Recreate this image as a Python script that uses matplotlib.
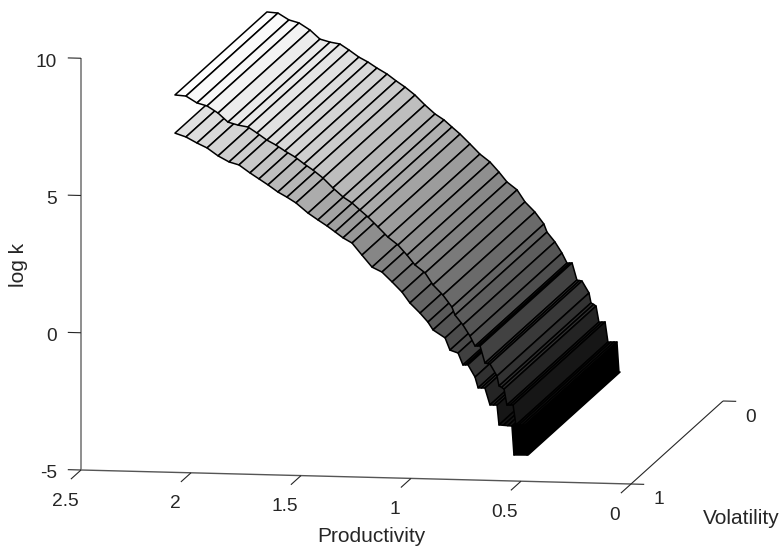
"""
log k over productivity and volatility: two grey faceted sheets, seen in a fixed oblique view.
z does not change along volatility, so each sheet is one row of z per productivity value.
"""

import matplotlib
matplotlib.use("Agg")
import matplotlib.pyplot as plt
from matplotlib.collections import PolyCollection

plt.rcParams["font.family"] = ["Liberation Sans", "DejaVu Sans"]

# upper sheet
p_upper = [2.073, 2.023, 1.973, 1.927, 1.877, 1.832, 1.786, 1.741, 1.700, 1.655, 1.614, 1.573,
           1.527, 1.486, 1.445, 1.400, 1.355, 1.309, 1.268, 1.232, 1.195, 1.150, 1.105, 1.059,
           1.018, 0.982, 0.936, 0.900, 0.855, 0.814, 0.800, 0.764, 0.732, 0.709, 0.697, 0.686,
           0.664, 0.652, 0.641, 0.609, 0.600, 0.588, 0.577, 0.564, 0.550, 0.536, 0.523, 0.510,
           0.495, 0.482, 0.473]
z_upper = [8.75, 8.72, 8.48, 8.38, 8.13, 7.81, 7.71, 7.65, 7.44, 7.19, 7.02, 6.81,
           6.60, 6.36, 6.14, 5.86, 5.51, 5.19, 4.98, 4.73, 4.48, 4.13, 3.77, 3.49,
           3.13, 2.78, 2.50, 2.07, 1.71, 1.28, 0.99, 0.64, 0.24, -0.12, -0.115, -0.11,
           -0.73, -0.745, -0.76, -1.19, -1.55, -1.60, -1.66, -2.24, -2.235, -2.23, -2.96, -2.955,
           -2.95, -2.95, -4.04]

# lower sheet
p_lower = [2.073, 2.023, 1.973, 1.927, 1.877, 1.827, 1.782, 1.732, 1.691, 1.650, 1.605, 1.564,
           1.523, 1.468, 1.423, 1.382, 1.345, 1.309, 1.268, 1.223, 1.177, 1.132, 1.086, 1.041,
           1.005, 0.959, 0.923, 0.900, 0.845, 0.823, 0.786, 0.764, 0.752, 0.741, 0.709, 0.695,
           0.680, 0.664, 0.641, 0.625, 0.609, 0.600, 0.580, 0.560, 0.541, 0.532, 0.468]
z_lower = [7.36, 7.23, 7.02, 6.85, 6.57, 6.36, 6.26, 5.98, 5.77, 5.56, 5.31, 5.13,
           4.93, 4.57, 4.33, 4.12, 3.91, 3.70, 3.52, 3.09, 2.66, 2.49, 2.14, 1.78,
           1.39, 1.03, 0.71, 0.43, 0.15, -0.29, -0.39, -0.82, -0.815, -0.81, -1.25, -1.64,
           -1.64, -1.64, -2.25, -2.25, -2.25, -2.97, -2.98, -2.99, -3.00, -4.05, -4.04]

p_ticks = [2.5, 2, 1.5, 1, 0.5, 0]
p_labels = ["2.5", "2", "1.5", "1", "0.5", "0"]
v_ticks = [1, 0]
v_labels = ["1", "0"]
z_ticks = [10, 5, 0, -5]
z_labels = ["10", "5", "0", "-5"]

TEXT = "#262626"


def project(p, v, z):
    # orthographic view, so the map to pixels is affine
    sx = 631 - 220 * p + 92 * (1 - v)
    sy = 484 - 5.6 * p - 83 * (1 - v) - 27.45 * (z + 5)
    return sx, sy


def sheet(ax, p_rows, z_rows, zmin, zmax):
    polys = []
    colors = []
    for i in range(len(p_rows) - 1):
        polys.append([project(p_rows[i], 1, z_rows[i]),
                      project(p_rows[i], 0, z_rows[i]),
                      project(p_rows[i + 1], 0, z_rows[i + 1]),
                      project(p_rows[i + 1], 1, z_rows[i + 1])])
        g = (z_rows[i + 1] - zmin) / (zmax - zmin)
        colors.append((g, g, g))
    ax.add_collection(PolyCollection(polys, facecolors=colors, edgecolors="black",
                                     linewidths=1.1, joinstyle="round"))


def axis_line(ax, a, b, color=TEXT, lw=0.8):
    ax.plot([a[0], b[0]], [a[1], b[1]], color=color, linewidth=lw, solid_capstyle="butt")


fig = plt.figure(figsize=(7.81, 5.46), dpi=100)
ax = fig.add_axes([0, 0, 1, 1])
ax.set_xlim(0, 781)
ax.set_ylim(546, 0)
ax.axis("off")

zmin = min(z_upper + z_lower)
zmax = max(z_upper + z_lower)
sheet(ax, p_lower, z_lower, zmin, zmax)
sheet(ax, p_upper, z_upper, zmin, zmax)

# --- axis lines ---
axis_line(ax, project(2.5, 1, -5), project(0, 1, -5), color="#555555", lw=1.0)
axis_line(ax, project(0, 1, -5), project(0, 0, -5))
axis_line(ax, project(2.5, 1, -5), project(2.5, 1, 10), color="#707070", lw=1.1)

# --- ticks and tick labels ---
for p, label in zip(p_ticks, p_labels):
    sx, sy = project(p, 1, -5)
    axis_line(ax, (sx, sy), project(p, 1.11, -5))
    ax.text(sx - 16, sy + 31, label, fontsize=13.8, color=TEXT, ha="center", va="center")

for v, label in zip(v_ticks, v_labels):
    sx, sy = project(0, v, -5)
    axis_line(ax, (sx, sy), project(-0.06, v, -5))
    ax.text(sx + 28, sy + 16, label, fontsize=13.8, color=TEXT, ha="center", va="center")

for z, label in zip(z_ticks, z_labels):
    sx, sy = project(2.5, 1, z)
    axis_line(ax, (sx, sy), project(2.56, 1, z))
    ax.text(57, sy + 4, label, fontsize=13.8, color=TEXT, ha="right", va="center")

# --- axis titles ---
ax.text(371, 536, "Productivity", fontsize=15, color=TEXT, ha="center", va="center")
ax.text(741, 518, "Volatility", fontsize=15, color=TEXT, ha="center", va="center")
ax.text(19, 265, "log k", fontsize=15, color=TEXT, ha="center", va="center", rotation=90)

fig.savefig("out.png", dpi=100)
